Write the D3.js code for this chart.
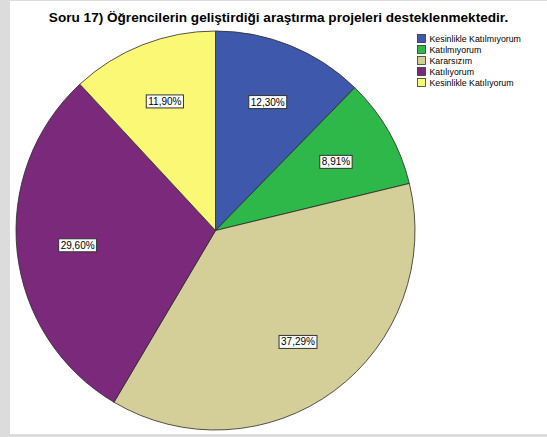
<!DOCTYPE html>
<html><head><meta charset="utf-8">
<script src="https://cdn.jsdelivr.net/npm/d3@7"></script>
<style>body{margin:0;background:#dcdcdc;}svg{display:block;}</style>
</head><body>
<svg id="c" width="547" height="437"></svg>
<script>
const title = "Soru 17) Öğrencilerin geliştirdiği araştırma projeleri desteklenmektedir.";
const categories = ["Kesinlikle Katılmıyorum","Katılmıyorum","Kararsızım","Katılıyorum","Kesinlikle Katılıyorum"];
const values = [12.30, 8.91, 37.29, 29.60, 11.90];
const labels = ["12,30%","8,91%","37,29%","29,60%","11,90%"];
const colors = ["#3e58ac","#2eb84a","#d4cf98","#7a297b","#fbf876"];

const svg = d3.select("#c");
svg.append("rect").attr("x",10).attr("y",1).attr("width",537).attr("height",433).attr("fill","#fff");

svg.append("text").attr("x",278.5).attr("y",22).attr("text-anchor","middle")
  .attr("font-family","Liberation Sans, Arial, sans-serif").attr("font-weight","bold")
  .attr("font-size",13.6).attr("fill","#000").text(title);

const cx = 215.5, cy = 230.5, r = 199.5;
const pie = d3.pie().sort(null).value(d=>d)(values);
const arc = d3.arc().innerRadius(0).outerRadius(r);
const g = svg.append("g").attr("transform",`translate(${cx},${cy})`);
g.selectAll("path").data(pie).join("path")
  .attr("d",arc).attr("fill",(d,i)=>colors[i])
  .attr("stroke","#2a2a2a").attr("stroke-width",0.8);

const lg = g.selectAll("g.lbl").data(pie).join("g").attr("class","lbl")
  .attr("transform",d=>{
    const th = d.endAngle-d.startAngle;
    const cd = Math.max(4*r*Math.sin(th/2)/(3*th), 0.695*r);
    const a = (d.startAngle+d.endAngle)/2;
    return `translate(${cd*Math.sin(a)},${-cd*Math.cos(a)})`;
  });
lg.each(function(d,i){
  const s = d3.select(this);
  const t = s.append("text").attr("text-anchor","middle").attr("dy","0.35em")
    .attr("font-family","Liberation Sans, Arial, sans-serif").attr("font-size",10)
    .attr("fill","#000").text(labels[i]);
  const w = t.node().getComputedTextLength()+4;
  s.insert("rect","text").attr("x",-w/2).attr("y",-6.5).attr("width",w).attr("height",13)
    .attr("fill","#fff").attr("stroke","#333").attr("stroke-width",1);
});

const leg = svg.append("g").attr("transform","translate(417,34)");
const li = leg.selectAll("g").data(categories).join("g").attr("transform",(d,i)=>`translate(0,${i*11})`);
li.append("rect").attr("x",0.5).attr("y",0.5).attr("width",8).attr("height",8)
  .attr("fill",(d,i)=>colors[i]).attr("stroke","#333").attr("stroke-width",0.8);
li.append("text").attr("x",12.5).attr("y",8).attr("font-family","Liberation Sans, Arial, sans-serif")
  .attr("font-size",8.8).attr("fill","#000").text(d=>d);
</script>
</body></html>
